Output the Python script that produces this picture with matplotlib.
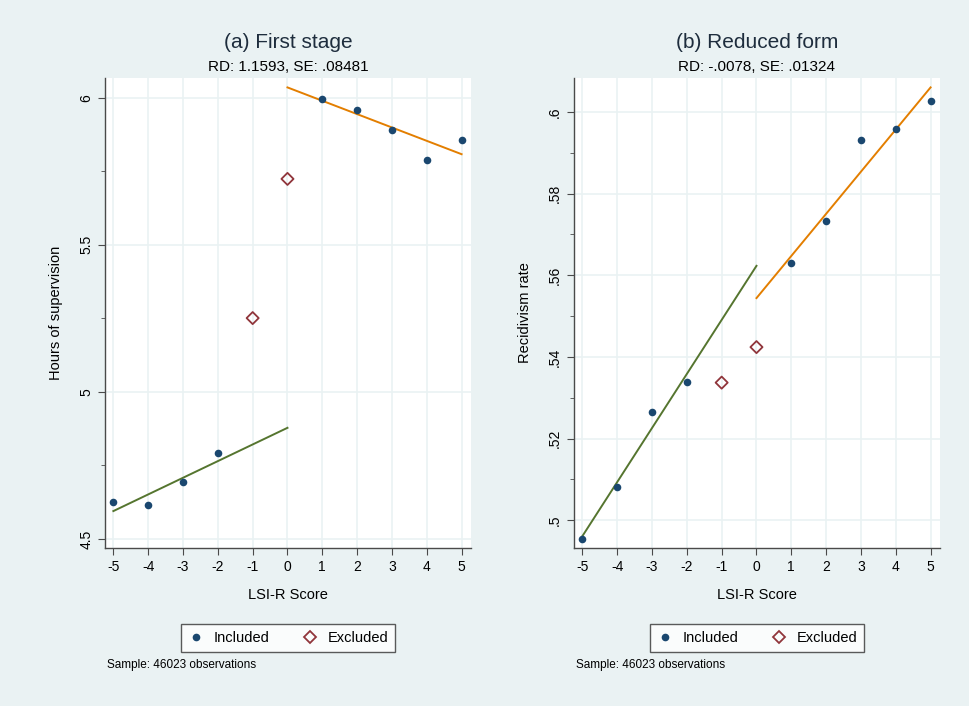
import numpy as np
import matplotlib

matplotlib.use('Agg')
import matplotlib.pyplot as plt
from matplotlib.lines import Line2D
from matplotlib.ticker import MultipleLocator, FuncFormatter

# LSI-R score bins
scores = [-5, -4, -3, -2, -1, 0, 1, 2, 3, 4, 5]
excluded_scores = [-1, 0]

# panel (a): hours of supervision
hours = [4.625, 4.614, 4.693, 4.792, 5.251, 5.724, 5.997, 5.959, 5.891, 5.789, 5.856]
hours_fit_left = [4.595, 4.878]     # at x = -5, 0
hours_fit_right = [6.035, 5.808]    # at x = 0, 5

# panel (b): recidivism rate
recid = [0.4955, 0.5082, 0.5264, 0.5338, 0.5337, 0.5424, 0.5630, 0.5732, 0.5932, 0.5958, 0.6026]
recid_fit_left = [0.4961, 0.5623]
recid_fit_right = [0.5544, 0.6060]


def stata_fmt(v, pos):
    # Stata style: no leading zero (".52")
    s = f"{v:.2f}".rstrip("0").rstrip(".")
    return s[1:] if s.startswith("0.") else s


panels = [
    dict(title="(a) First stage", sub="RD: 1.1593, SE: .08481", ylabel="Hours of supervision",
         y=hours, fl=hours_fit_left, fr=hours_fit_right,
         ylim=(4.4695, 6.067), yticks=[4.5, 5, 5.5, 6], minor=0.25, left=105),
    dict(title="(b) Reduced form", sub="RD: -.0078, SE: .01324", ylabel="Recidivism rate",
         y=recid, fl=recid_fit_left, fr=recid_fit_right,
         ylim=(0.4932, 0.6083), yticks=[0.5, 0.52, 0.54, 0.56, 0.58, 0.6], minor=0.01, left=574),
]

BG = "#EAF2F3"
NAVY = "#1a476f"
MAROON = "#90353b"
GREEN = "#55752f"
ORANGE = "#e37e00"
TXT = "#1e2d3d"

W, H = 970, 706
plt.rcParams['font.family'] = ['Liberation Sans', 'DejaVu Sans']
plt.rcParams['axes.unicode_minus'] = False
fig = plt.figure(figsize=(W / 100, H / 100), dpi=100, facecolor=BG)

for p in panels:
    ax = fig.add_axes([p["left"] / W, 1 - 548 / H, 366 / W, 470 / H])
    ax.set_facecolor("white")
    inc = [s not in excluded_scores for s in scores]
    xs_in = [s for s, k in zip(scores, inc) if k]
    ys_in = [v for v, k in zip(p["y"], inc) if k]
    xs_ex = [s for s, k in zip(scores, inc) if not k]
    ys_ex = [v for v, k in zip(p["y"], inc) if not k]

    ax.plot([-5, 0], p["fl"], color=GREEN, lw=1.4, zorder=3)
    ax.plot([0, 5], p["fr"], color=ORANGE, lw=1.4, zorder=3)
    ax.scatter(xs_in, ys_in, s=30, color=NAVY, zorder=4, linewidths=0)
    ax.scatter(xs_ex, ys_ex, s=38, marker="D", facecolors="none", edgecolors=MAROON,
               linewidths=1.3, zorder=4)

    ax.set_xlim(-5.24, 5.27)
    ax.set_ylim(*p["ylim"])
    ax.set_xticks(scores)
    ax.set_yticks(p["yticks"])
    ax.yaxis.set_minor_locator(MultipleLocator(p["minor"]))
    ax.yaxis.set_major_formatter(FuncFormatter(stata_fmt))
    ax.grid(True, which="major", color=BG, lw=1.2, zorder=0)
    ax.set_axisbelow(True)
    for side in ("top", "right"):
        ax.spines[side].set_visible(False)
    for side in ("left", "bottom"):
        ax.spines[side].set_color("#4a4a4a")
        ax.spines[side].set_linewidth(1.0)
    ax.tick_params(axis="both", which="major", length=5, color="#4a4a4a", labelsize=10,
                   labelcolor="black")
    ax.tick_params(axis="y", which="minor", length=3, color="#4a4a4a")
    ax.tick_params(axis="y", which="major", labelrotation=90)
    for lab in ax.get_yticklabels():
        lab.set_va("center")
    ax.set_xlabel("LSI-R Score", fontsize=10.5, labelpad=10, color="black")
    ax.set_ylabel(p["ylabel"], fontsize=10.5, labelpad=12, color="black")

    cx = p["left"] + 183
    fig.text(cx / W, 1 - 43 / H, p["title"], ha="center", va="center", fontsize=15, color=TXT)
    fig.text(cx / W, 1 - 67 / H, p["sub"], ha="center", va="center", fontsize=11, color="black")

    handles = [
        Line2D([], [], ls="none", marker="o", ms=5.5, color=NAVY, markeredgewidth=0),
        Line2D([], [], ls="none", marker="D", ms=6, markerfacecolor="none",
               markeredgecolor=MAROON, markeredgewidth=1.3),
    ]
    leg = fig.legend(handles, ["Included", "Excluded"], loc="center",
                     bbox_to_anchor=(cx / W, 1 - 638 / H), ncol=2, frameon=True,
                     fancybox=False, fontsize=10.5, handletextpad=0.6, columnspacing=2.2,
                     borderpad=0.45, handlelength=1.2)
    leg.get_frame().set_edgecolor("#333333")
    leg.get_frame().set_linewidth(1.0)
    fig.text((p["left"] + 2) / W, 1 - 665 / H, "Sample: 46023 observations",
             ha="left", va="center", fontsize=8.5, color="black")

fig.savefig("out.png", dpi=100, facecolor=BG)
